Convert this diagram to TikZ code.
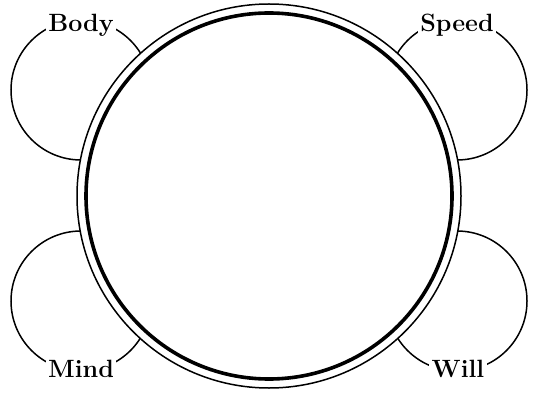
\documentclass[tikz,border=0pt]{standalone}
\usepackage{fontspec}
\usepackage{tikz}
\usetikzlibrary{positioning}

\begin{document}
\begin{tikzpicture}[x=1pt, y=-1pt,
    side ring/.style={draw, circle, line width=1.5pt, minimum size=140pt, inner sep=0pt},
    ring label/.style={fill=white, inner sep=2.5pt, anchor=base, font=\bfseries\fontsize{25}{25}\selectfont}]
    \useasboundingbox (0,0) rectangle (537,395);

    \node[side ring] (bodyring) at (81,90) {};
    \node[side ring] (speedring) at (457,90) {};
    \node[side ring] (mindring) at (81,301) {};
    \node[side ring] (willring) at (457,301) {};

    \node[draw, circle, fill=white, line width=1.5pt, minimum size=384pt, inner sep=0pt] (outer) at (269,196) {};
    \node[draw, circle, line width=3.6pt, minimum size=366pt, inner sep=0pt] (inner) at (outer.center) {};

    \node[ring label] (body) at (81,31.5) {Body};
    \node[ring label] (speed) at (457,31.5) {Speed};
    \node[ring label] (mind) at (81,377) {Mind};
    \node[ring label] (will) at (458,377) {Will};
\end{tikzpicture}
\end{document}
